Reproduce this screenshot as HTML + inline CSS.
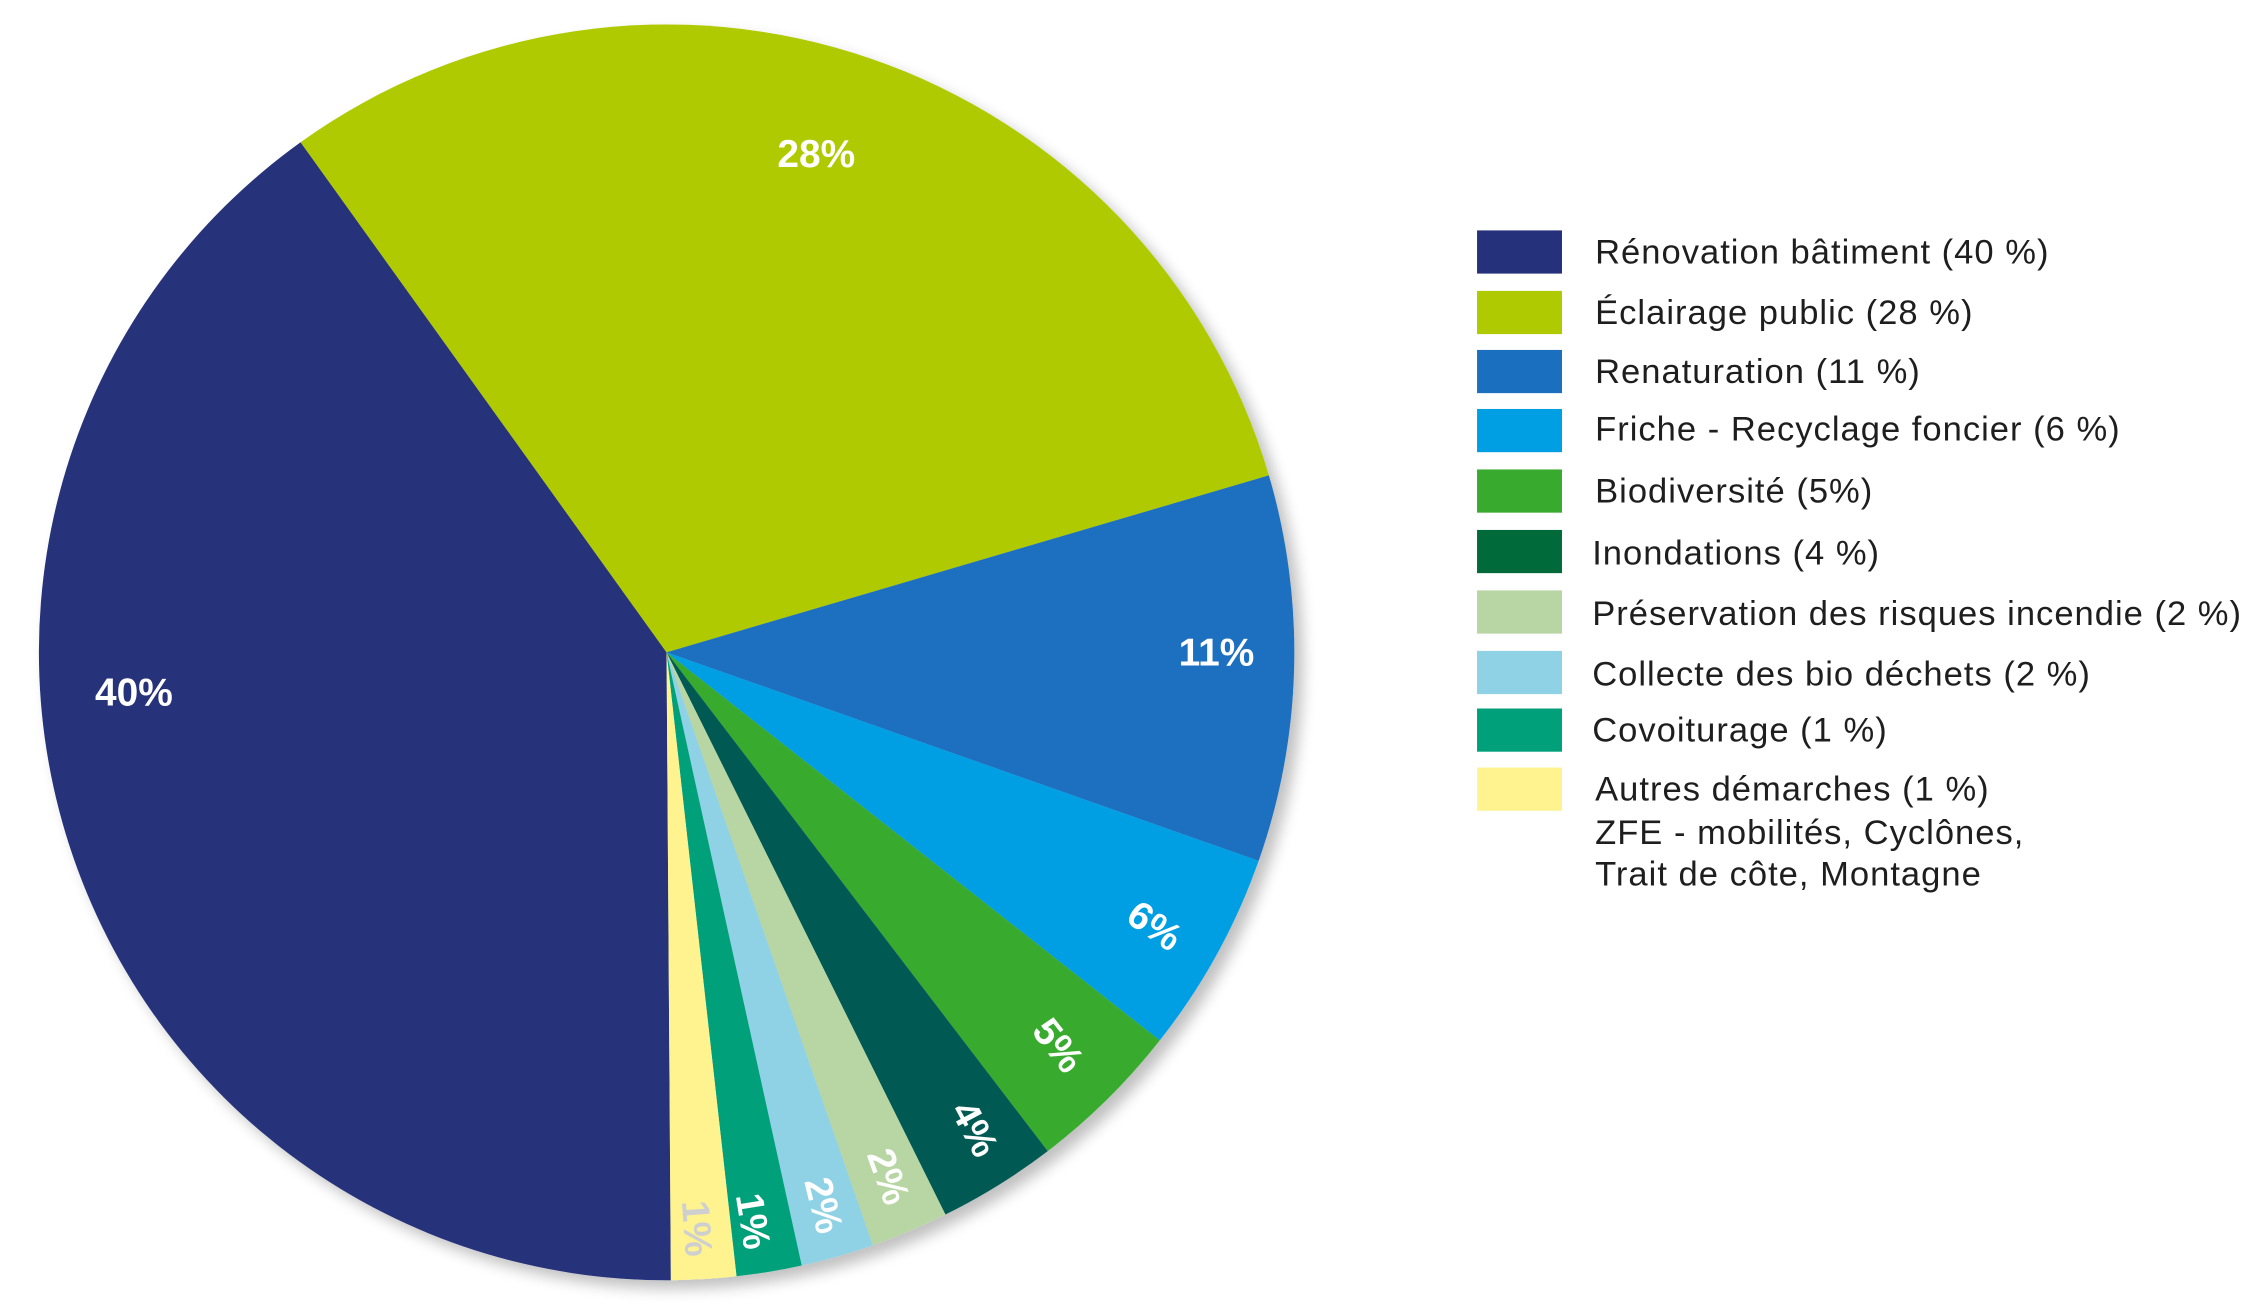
<!DOCTYPE html>
<html><head><meta charset="utf-8"><style>
html,body{margin:0;padding:0;background:#fff;}
svg{display:block;}
text{font-family:"Liberation Sans","DejaVu Sans",sans-serif;}
</style></head><body>
<svg width="2253" height="1309" viewBox="0 0 1565 909" preserveAspectRatio="none" xmlns="http://www.w3.org/2000/svg">
<defs>
<filter id="sh" x="-10%" y="-10%" width="130%" height="130%">
<feGaussianBlur in="SourceAlpha" stdDeviation="5"/>
<feOffset dx="6" dy="6"/>
<feComponentTransfer><feFuncA type="linear" slope="0.25"/></feComponentTransfer>
<feMerge><feMergeNode/><feMergeNode in="SourceGraphic"/></feMerge>
</filter>
</defs>
<g filter="url(#sh)">
<path d="M463,453 L466.0,889.0 A436,436 0 0 1 208.8,98.8 Z" fill="#25317a"/>
<path d="M463,453 L208.8,98.8 A436,436 0 0 1 881.4,330.1 Z" fill="#afca00"/>
<path d="M463,453 L881.4,330.1 A436,436 0 0 1 874.3,597.8 Z" fill="#1a6fbf"/>
<path d="M463,453 L874.3,597.8 A436,436 0 0 1 805.6,722.5 Z" fill="#009ee3"/>
<path d="M463,453 L805.6,722.5 A436,436 0 0 1 727.8,799.4 Z" fill="#38ab2e"/>
<path d="M463,453 L727.8,799.4 A436,436 0 0 1 656.7,843.4 Z" fill="#005a52"/>
<path d="M463,453 L656.7,843.4 A436,436 0 0 1 606.3,864.8 Z" fill="#b7d6a3"/>
<path d="M463,453 L606.3,864.8 A436,436 0 0 1 556.9,878.8 Z" fill="#8fd1e5"/>
<path d="M463,453 L556.9,878.8 A436,436 0 0 1 511.6,886.3 Z" fill="#00a07a"/>
<path d="M463,453 L511.6,886.3 A436,436 0 0 1 466.0,889.0 Z" fill="#fff38f"/>
</g>
<g fill="#fff" font-weight="bold" font-size="27" text-anchor="middle">
<text x="93" y="490">40%</text>
<text x="567" y="116">28%</text>
<text x="845" y="462">11%</text>
<text transform="translate(802,643) rotate(35)" y="9">6%</text>
<text transform="translate(735,726) rotate(52)" y="9">5%</text>
<text transform="translate(677,784) rotate(62)" y="9">4%</text>
<text transform="translate(617,817) rotate(70)" y="9">2%</text>
<text transform="translate(572,837) rotate(76)" y="9">2%</text>
<text transform="translate(523,848) rotate(81)" y="9">1%</text>
<text transform="translate(484,853) rotate(86)" y="9" fill="#cfcfcf">1%</text>
</g>
<g>
<rect x="1026" y="160" width="59" height="30" fill="#25317a"/>
<rect x="1026" y="202" width="59" height="30" fill="#afca00"/>
<rect x="1026" y="243" width="59" height="30" fill="#1a6fbf"/>
<rect x="1026" y="284" width="59" height="30" fill="#009ee3"/>
<rect x="1026" y="326" width="59" height="30" fill="#38ab2e"/>
<rect x="1026" y="368" width="59" height="30" fill="#006a3a"/>
<rect x="1026" y="410" width="59" height="30" fill="#b7d6a3"/>
<rect x="1026" y="452" width="59" height="30" fill="#8fd1e5"/>
<rect x="1026" y="492" width="59" height="30" fill="#00a07a"/>
<rect x="1026" y="533" width="59" height="30" fill="#fff38f"/>
</g>
<g fill="#1e1e1e" font-size="24" letter-spacing="0.7">
<text x="1108" y="183">Rénovation bâtiment (40 %)</text>
<text x="1108" y="225">Éclairage public (28 %)</text>
<text x="1108" y="266">Renaturation (11 %)</text>
<text x="1108" y="306">Friche - Recyclage foncier (6 %)</text>
<text x="1108" y="349">Biodiversité (5%)</text>
<text x="1106" y="392">Inondations (4 %)</text>
<text x="1106" y="434">Préservation des risques incendie (2 %)</text>
<text x="1106" y="476">Collecte des bio déchets (2 %)</text>
<text x="1106" y="515">Covoiturage (1 %)</text>
<text x="1108" y="556">Autres démarches (1 %)</text>
<text x="1108" y="586">ZFE - mobilités, Cyclônes,</text>
<text x="1108" y="615">Trait de côte, Montagne</text>
</g>
</svg>
</body></html>
